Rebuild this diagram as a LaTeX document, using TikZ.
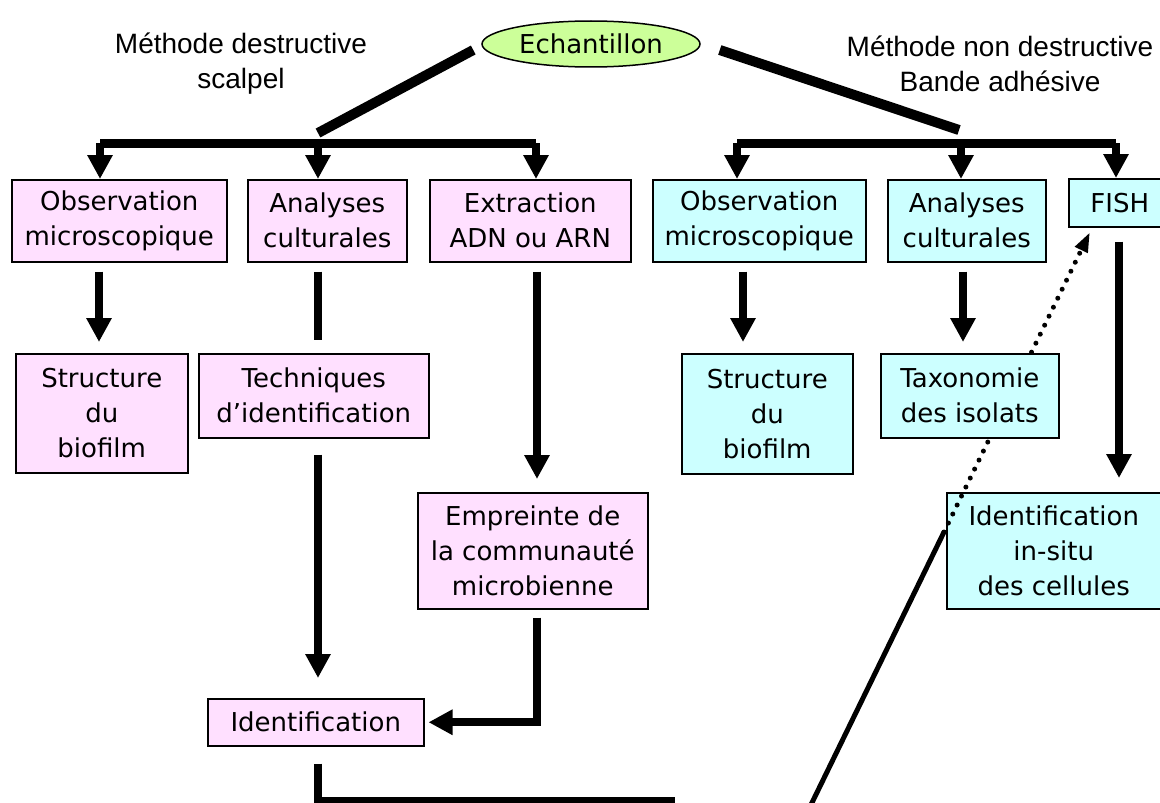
\documentclass[tikz,border=0pt]{standalone}
\usepackage{fontspec}
\usetikzlibrary{arrows.meta,shapes.geometric,calc}
\newfontfamily\boxfont{DejaVu Sans}
\newfontfamily\headfont{Liberation Sans}
\definecolor{pinkbox}{HTML}{FFE0FF}
\definecolor{cyanbox}{HTML}{CCFFFF}
\definecolor{greenell}{HTML}{CCFF99}
\begin{document}
\begin{tikzpicture}[x=1bp,y=-1bp,
  basebox/.style={draw=black, line width=1.5bp, inner sep=0pt, align=center, anchor=north west,
    font=\boxfont\fontsize{26bp}{35bp}\selectfont},
  pbox/.style={basebox, fill=pinkbox},
  cbox/.style={basebox, fill=cyanbox},
  headtxt/.style={align=center, font=\headfont\fontsize{28bp}{35bp}\selectfont},
  thickbar/.style={line width=9bp, line cap=square},
  diagline/.style={line width=10bp},
  stemline/.style={line width=8bp},
  arrline/.style={stemline, -{Triangle[width=24bp,length=24bp]}},
  dotline/.style={line width=5bp, line cap=round, dash pattern=on 0bp off 10bp},
]
\useasboundingbox (0,0) rectangle (1160,803);
\fill[white] (0,0) rectangle (1160,803);
\clip (0,0) rectangle (1160,803);

% headers
\node[headtxt] (hL) at (241,64) {Méthode destructive\\scalpel};
\node[headtxt] (hR) at (1000,64) {Méthode non destructive\\Bande adhésive};

% root
\node[ellipse, draw=black, fill=greenell, line width=1.5bp, minimum width=218bp, minimum height=46bp,
  inner sep=0pt, font=\boxfont\fontsize{26bp}{30bp}\selectfont] (ech) at (591,44) {Echantillon};

% first row
\node[pbox, minimum width=215bp, minimum height=82bp] (obsL) at (11,179) {Observation\\microscopique};
\node[pbox, minimum width=159bp, minimum height=82bp] (anaL) at (247,179) {Analyses\\culturales};
\node[pbox, minimum width=201bp, minimum height=82bp] (extr) at (429,179) {Extraction\\ADN ou ARN};
\node[cbox, minimum width=213bp, minimum height=82bp] (obsR) at (652,179) {Observation\\microscopique};
\node[cbox, minimum width=158bp, minimum height=82bp] (anaR) at (887,179) {Analyses\\culturales};
\node[cbox, minimum width=102bp, minimum height=48bp] (fish) at (1068,178) {FISH};

% second row
\node[pbox, minimum width=172bp, minimum height=119bp] (strL) at (15,353) {Structure\\du\\biofilm};
\node[pbox, minimum width=230bp, minimum height=84bp] (tech) at (198,353) {Techniques\\d’identification};
\node[pbox, minimum width=230bp, minimum height=116bp] (emp) at (417,492) {Empreinte de\\la communauté\\microbienne};
\node[pbox, minimum width=216bp, minimum height=47bp] (ident) at (207,698) {Identification};
\node[cbox, minimum width=171bp, minimum height=120bp] (strR) at (681,353) {Structure\\du\\biofilm};
\node[cbox, minimum width=214bp, minimum height=116bp] (insitu) at (946,492) {Identification\\in-situ\\des cellules};

% coordinates
\coordinate (jl) at (318,133);
\coordinate (jr) at (959,130);
\coordinate (bl1) at (100,143);
\coordinate (bl2) at (318,143);
\coordinate (bl3) at (536,143);
\coordinate (br1) at (737,143);
\coordinate (br2) at (961,143);
\coordinate (br3) at (1116,143);
\coordinate (c1) at (99,0);
\coordinate (c2) at (318,0);
\coordinate (c3) at (537,0);
\coordinate (c4) at (743,0);
\coordinate (c5) at (963,0);
\coordinate (c6) at (1119,0);
\coordinate (bendE) at (675,801);
\coordinate (dB) at (806,815);
\coordinate (dM) at (944,532);
\coordinate (dT) at (1090,232);

% diagonals from root
\draw[diagline] ($(ech.west)+(-8,6)$) -- (jl);
\draw[diagline] ($(ech.east)+(19,6)$) -- (jr);

% distribution bars
\draw[thickbar] (bl1) -- (bl3);
\draw[arrline] (bl1) -- (bl1 |- obsL.north);
\draw[arrline] (bl2) -- (bl2 |- anaL.north);
\draw[arrline] (bl3) -- (bl3 |- extr.north);
\draw[thickbar] (br1) -- (br3);
\draw[arrline] (br1) -- (br1 |- obsR.north);
\draw[arrline] (br2) -- (br2 |- anaR.north);
\draw[arrline] (br3) -- (br3 |- fish.north);

% left branch
\draw[arrline, shorten <=9bp, shorten >=11bp] (obsL.south -| c1) -- (strL.north -| c1);
\draw[stemline, shorten <=9bp, shorten >=13bp] (anaL.south -| c2) -- (tech.north -| c2);
\draw[arrline, shorten <=9bp, shorten >=13bp] (extr.south -| c3) -- (emp.north -| c3);
\draw[arrline, shorten <=16bp, shorten >=20bp] (tech.south -| c2) -- (ident.north -| c2);
\draw[arrline, shorten <=8bp, shorten >=4bp] (emp.south -| c3) |- (ident.east);
\draw[stemline, shorten <=17bp] (ident.south -| c2) |- (bendE);

% right branch
\draw[arrline, shorten <=9bp, shorten >=11bp] (obsR.south -| c4) -- (strR.north -| c4);
\draw[arrline, shorten <=9bp, shorten >=11bp] (anaR.south -| c5) -- (strR.north -| c5);
\draw[arrline, shorten <=14bp, shorten >=14bp] (fish.south -| c6) -- (insitu.north -| c6);

% long diagonal
\draw[line width=5bp] (dB) -- (dM);
\draw[dotline, -{Triangle[width=13bp,length=20bp]}] (dM) -- (dT);

\node[cbox, minimum width=178bp, minimum height=84bp] (tax) at (880,353) {Taxonomie\\des isolats};
\end{tikzpicture}
\end{document}
